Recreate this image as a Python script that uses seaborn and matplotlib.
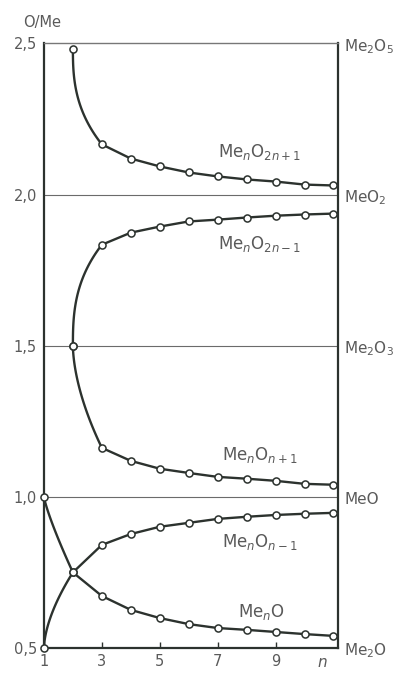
import numpy as np
import pandas as pd
import matplotlib
matplotlib.use("Agg")
import matplotlib.pyplot as plt
import seaborn as sns

# Number of metal atoms in the formula unit
n_values = [1, 2, 3, 4, 5, 6, 7, 8, 9, 10, 11]

# O/Me ratio for each homologous series (None where the series is undefined)
ratio_2n_plus_1 = [None, 2.48, 2.166, 2.119, 2.093, 2.073, 2.060, 2.050, 2.043, 2.033, 2.030]
ratio_2n_minus_1 = [None, 1.50, 1.834, 1.874, 1.894, 1.911, 1.917, 1.924, 1.930, 1.934, 1.937]
ratio_n_plus_1 = [None, 1.50, 1.162, 1.119, 1.093, 1.079, 1.066, 1.060, 1.053, 1.043, 1.040]
ratio_n_minus_1 = [0.50, 0.75, 0.841, 0.877, 0.901, 0.914, 0.927, 0.934, 0.940, 0.944, 0.947]
ratio_n = [1.00, 0.75, 0.672, 0.626, 0.599, 0.579, 0.566, 0.560, 0.553, 0.546, 0.540]

series_labels = [
    r"Me$_n$O$_{2n+1}$",
    r"Me$_n$O$_{2n-1}$",
    r"Me$_n$O$_{n+1}$",
    r"Me$_n$O$_{n-1}$",
    r"Me$_n$O",
]

# Reference oxides on the right-hand axis
oxide_levels = [2.5, 2.0, 1.5, 1.0, 0.5]
oxide_labels = [r"Me$_2$O$_5$", r"MeO$_2$", r"Me$_2$O$_3$", "MeO", r"Me$_2$O"]

y_ticks = [0.5, 1.0, 1.5, 2.0, 2.5]
y_tick_labels = ["0,5", "1,0", "1,5", "2,0", "2,5"]
x_ticks = [1, 3, 5, 7, 9]
x_tick_labels = ["1", "3", "5", "7", "9"]

LINE = "#2c322e"
TEXT = "#5a5a5a"

sns.set_theme(style="white")
plt.rcParams["font.family"] = ["DejaVu Sans"]
plt.rcParams["mathtext.fontset"] = "dejavusans"

fig = plt.figure(figsize=(4.07, 6.74), dpi=100)
fig.patch.set_facecolor("white")
ax = fig.add_axes([0.108, 0.0386, 0.722, 0.897])
ax.set_facecolor("white")


def lead_in(x0, y0, x1, y1, power, num=80):
    """Curved first segment: x follows t**power while y moves linearly."""
    t = np.linspace(0.0, 1.0, num)
    return x0 + (x1 - x0) * t ** power, y0 + (y1 - y0) * t


all_series = [ratio_2n_plus_1, ratio_2n_minus_1, ratio_n_plus_1, ratio_n_minus_1, ratio_n]
# bending of the first drawn segment of each curve
bend = [2.6, 2.7, 1.7, 1.65, 1.2]

for values, p in zip(all_series, bend):
    df = pd.DataFrame({"n": n_values, "ratio": values}).dropna()
    x = df["n"].to_numpy(dtype=float)
    y = df["ratio"].to_numpy(dtype=float)
    cx, cy = lead_in(x[0], y[0], x[1], y[1], p)
    ax.plot(cx, cy, color=LINE, lw=1.7, solid_capstyle="round", zorder=3, clip_on=False)
    sns.lineplot(data=df.iloc[1:], x="n", y="ratio", ax=ax, color=LINE, lw=1.7,
                 estimator=None, sort=False, zorder=3)
    sns.scatterplot(data=df, x="n", y="ratio", ax=ax, s=26, marker="o",
                    facecolor="white", edgecolor=LINE, linewidth=1.1, zorder=4,
                    clip_on=False)

# thin reference levels
for lvl in [1.0, 1.5, 2.0]:
    ax.axhline(lvl, color="#6b6b6b", lw=0.8, zorder=1)

ax.set_xlim(1, 11.15)
ax.set_ylim(0.5, 2.5)

for side in ["left", "bottom", "right"]:
    ax.spines[side].set_color(LINE)
    ax.spines[side].set_linewidth(1.6)
ax.spines["top"].set_color("#777777")
ax.spines["top"].set_linewidth(1.0)

ax.set_yticks(y_ticks)
ax.set_yticklabels(y_tick_labels)
ax.set_xticks(x_ticks)
ax.set_xticklabels(x_tick_labels)
ax.tick_params(axis="y", length=0, pad=5, labelsize=10.5, labelcolor=TEXT)
ax.tick_params(axis="x", direction="in", length=4, width=1.0, color=LINE,
               pad=4, labelsize=10.5, labelcolor=TEXT, bottom=True)
ax.set_xlabel("")
ax.set_ylabel("")

ax.text(10.6, -0.012, r"$n$", transform=ax.get_xaxis_transform(), ha="center", va="top",
        fontsize=11, color=TEXT)

for lvl, lab in zip(oxide_levels, oxide_labels):
    ax.text(1.022, lvl - 0.01, lab, transform=ax.get_yaxis_transform(), ha="left",
            va="center", fontsize=11, color=TEXT)

# in-plot series names
label_pos = [(8.45, 2.14), (8.45, 1.835), (8.45, 1.14), (8.45, 0.85), (8.5, 0.62)]
for (lx, ly), lab in zip(label_pos, series_labels):
    ax.text(lx, ly, lab, ha="center", va="center", fontsize=12, color=TEXT, zorder=5)

fig.text(42 / 407, 1 - 23 / 674, "O/Me", ha="center", va="center", fontsize=10.5, color=TEXT)

fig.savefig("out.png", dpi=100, facecolor="white")
